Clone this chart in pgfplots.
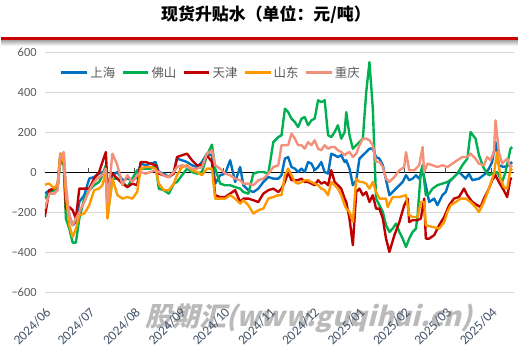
\documentclass[border=0pt]{standalone}
\usepackage{pgfplots}
\pgfplotsset{compat=1.18}
\usepackage{fontspec}
\setmainfont{Carlito}
\newfontfamily\cjk{Noto Sans CJK SC}
\newfontfamily\wmfont[FakeSlant=0.25]{Noto Sans CJK SC}
\definecolor{cBlue}{HTML}{0070C0}
\definecolor{cGreen}{HTML}{00B050}
\definecolor{cRed}{HTML}{C00000}
\definecolor{cOrange}{HTML}{FF9900}
\definecolor{cSalmon}{HTML}{F2907A}
\definecolor{cGray}{HTML}{595959}
\definecolor{cXlab}{HTML}{44546A}
\definecolor{cTitleRed}{HTML}{CC0000}
\begin{document}
\begin{tikzpicture}
\path (0pt,0pt) rectangle (519pt,351pt);
\node[text=black!27] at (309pt,31pt) {\wmfont\bfseries\fontsize{27}{30}\selectfont 股期汇(www.guqihui.cn)};
\node at (266pt,336.5pt) {\cjk\bfseries\fontsize{17}{19}\selectfont 现货升贴水（单位：元/吨）};
\shade[top color=black!40, bottom color=white] (0pt,305pt) rectangle (519pt,311.5pt);
\draw[color=cTitleRed, line width=2.6pt] (0pt,312.5pt) -- (519pt,312.5pt);
\begin{axis}[
  at={(43.7pt,57pt)}, anchor=south west, scale only axis,
  width=471.3pt, height=241pt,
  xmin=0, xmax=319.5, ymin=-600, ymax=600,
  axis line style={draw=none},
  major tick length=0pt,
  ytick={-600,-400,-200,0,200,400,600},
  yticklabels={−600,−400,−200,0,200,400,600},
  ymajorgrids, major grid style={draw=black!15, line width=0.8pt},
  yticklabel style={font=\fontsize{12.5}{14}\selectfont, text=cGray, anchor=east, inner sep=0pt, xshift=-8pt},
  xtick={0,30,61,92,122,153,183,214,245,273,304},
  xticklabels={2024/06,2024/07,2024/08,2024/09,2024/10,2024/11,2024/12,2025/01,2025/02,2025/03,2025/04},
  xticklabel style={font=\fontsize{13.5}{15}\selectfont, text=cXlab, yshift=-14pt, rotate=45, anchor=north east, inner sep=0pt},
  legend columns=5,
  legend style={at={(0.0325,0.917)}, anchor=west, draw=none, fill=none, inner sep=0pt,
    font=\cjk\fontsize{12.5}{14}\selectfont, text=cGray,
    /tikz/every even column/.append style={column sep=4pt}},
  legend image code/.code={\draw[#1] (0pt,0pt) -- (26pt,0pt);},
  every axis plot/.append style={line width=2.4pt, line join=round},
]
\draw[black, line width=0.9pt] (axis cs:0,0) -- (axis cs:319.5,0);
\pgfplotsinvokeforeach{0,30,61,92,122,153,183,214,245,273,304}{\draw[black!70, line width=0.9pt] (axis cs:#1,0) -- ++(0pt,5pt);}
\addplot[cBlue] coordinates {(0,-105)(3.1,-88)(6.5,-80)(8.8,-63)(10.6,95)(12.9,87)(14.4,-147)(16.7,-213)(19.0,-263)(21.2,-247)(23.5,-147)(26.9,-113)(30.3,-30)(33.6,-22)(37.0,-5)(39.3,3)(41.6,10)(42.7,-100)(46.1,-13)(49.5,3)(52.9,-38)(56.3,-30)(59.6,-38)(63.0,-22)(65.3,45)(68.7,37)(72.1,45)(75.5,53)(77.7,3)(81.1,-5)(84.5,-22)(87.9,3)(90.1,70)(93.5,62)(96.9,53)(100.3,37)(103.7,28)(107.1,53)(110.5,95)(113.9,87)(116.1,-55)(119.5,-13)(122.9,-5)(126.3,62)(129.7,-47)(133.1,28)(135.3,-63)(138.7,-88)(142.1,-97)(145.5,-80)(148.9,-47)(152.3,-22)(155.7,-30)(159.1,-30)(161.3,-13)(163.6,70)(165.8,78)(168.1,28)(170.4,20)(172.6,3)(174.9,20)(177.1,3)(179.4,53)(181.7,45)(183.9,12)(186.2,28)(188.4,53)(190.7,3)(193.0,-5)(195.2,95)(197.5,87)(199.7,78)(202.0,87)(204.3,53)(205.4,62)(207.6,20)(209.9,-63)(212.2,-38)(214.4,70)(216.7,87)(219.0,103)(221.2,120)(223.5,120)(225.7,78)(228.0,70)(230.3,37)(234.8,-113)(239.3,-80)(243.8,-47)(246.1,-13)(248.3,-38)(250.6,-30)(252.9,-13)(255.1,-30)(257.4,12)(259.6,-63)(261.9,-147)(265.3,-130)(267.5,-163)(270.9,-113)(273.2,-97)(275.5,-47)(277.7,-30)(282.2,3)(286.8,-30)(289.0,-5)(291.3,-38)(295.8,-30)(300.3,-5)(302.6,20)(304.8,53)(307.1,153)(309.4,37)(312.7,28)(316.1,37)(318.4,53)};
\addlegendentry{上海}
\addplot[cGreen] coordinates {(0,-130)(3.1,-97)(6.5,-88)(8.8,-72)(10.6,60)(12.9,37)(14.4,-230)(16.7,-280)(19.0,-350)(21.2,-350)(23.5,-230)(26.9,-130)(30.3,-88)(33.6,-63)(37.0,-47)(39.3,-13)(41.6,37)(42.7,-222)(46.1,-30)(49.5,-30)(52.9,-47)(56.3,-72)(59.6,-30)(63.0,12)(65.3,20)(68.7,20)(72.1,20)(75.5,37)(77.7,-80)(81.1,-88)(84.5,-105)(87.9,-55)(90.1,-47)(93.5,-13)(96.9,20)(100.3,3)(103.7,-5)(107.1,3)(110.5,87)(113.9,140)(116.1,20)(119.5,-55)(122.9,-63)(126.3,-63)(129.7,-72)(133.1,-80)(135.3,-97)(138.7,-105)(142.1,-5)(145.5,3)(148.9,3)(152.3,-5)(155.7,153)(159.1,178)(161.3,187)(163.6,320)(165.8,303)(168.1,270)(170.4,253)(172.6,228)(174.9,270)(177.1,278)(179.4,237)(181.7,262)(183.9,270)(186.2,362)(188.4,353)(190.7,362)(193.0,187)(195.2,178)(197.5,203)(199.7,237)(202.0,170)(204.3,203)(205.4,303)(207.6,187)(209.9,120)(212.2,137)(214.4,153)(216.7,170)(219.0,403)(221.2,553)(223.5,320)(225.7,-130)(228.0,-163)(230.3,-197)(232.5,-263)(234.8,-297)(237.0,-280)(239.3,-255)(241.6,-297)(243.8,-330)(246.1,-372)(248.3,-330)(250.6,-297)(252.9,-280)(254.0,-213)(256.2,3)(257.4,37)(259.6,-113)(261.9,-105)(264.2,-80)(267.5,-63)(270.9,-55)(274.3,-47)(277.7,-30)(281.1,-5)(284.5,37)(287.9,70)(290.1,203)(293.5,170)(295.8,87)(299.2,20)(302.6,-13)(304.8,-5)(308.2,3)(311.6,-47)(313.9,3)(317.3,120)(318.4,128)};
\addlegendentry{佛山}
\addplot[cRed] coordinates {(0,-222)(3.1,-88)(6.5,-80)(8.8,-63)(10.6,80)(12.9,70)(14.4,-180)(16.7,-172)(19.0,-188)(21.2,-230)(23.5,-80)(26.9,-80)(30.3,-80)(33.6,-30)(37.0,3)(39.3,53)(41.6,103)(42.7,-63)(46.1,-5)(49.5,-30)(52.9,-55)(56.3,-72)(59.6,-55)(63.0,-63)(65.3,53)(68.7,53)(72.1,45)(75.5,37)(77.7,-5)(81.1,-13)(84.5,-22)(87.9,-5)(90.1,78)(93.5,87)(96.9,95)(100.3,62)(103.7,37)(107.1,37)(110.5,87)(113.9,53)(116.1,-113)(119.5,-122)(122.9,-122)(126.3,-105)(129.7,-88)(133.1,-147)(135.3,-130)(138.7,-130)(142.1,-138)(145.5,-147)(148.9,-105)(152.3,-88)(155.7,-80)(159.1,-97)(161.3,-80)(163.6,-47)(165.8,3)(168.1,-38)(170.4,-38)(172.6,-38)(174.9,-30)(177.1,-47)(179.4,-47)(181.7,-55)(183.9,-63)(186.2,-38)(188.4,-55)(190.7,-47)(193.0,-63)(195.2,12)(197.5,-47)(199.7,-63)(202.0,-80)(204.3,-130)(205.4,-147)(207.6,-230)(209.9,-363)(212.2,-97)(214.4,-80)(216.7,-113)(219.0,-97)(221.2,-147)(223.5,-113)(225.7,-180)(228.0,-180)(230.3,-230)(232.5,-330)(234.8,-397)(238.2,-313)(241.6,-247)(244.9,-163)(247.2,-130)(248.3,-247)(250.6,-238)(254.0,-238)(256.2,-230)(258.5,-130)(259.6,-330)(261.9,-330)(265.3,-313)(268.7,-263)(272.1,-222)(275.5,-163)(278.8,-130)(282.2,-122)(285.6,-80)(287.9,-113)(291.3,-147)(294.7,-163)(296.9,-172)(299.2,-130)(302.6,-80)(304.8,-38)(307.1,-13)(309.4,-47)(312.7,-88)(315.0,-122)(317.3,-30)(318.4,-30)};
\addlegendentry{天津}
\addplot[cOrange] coordinates {(0,-60)(3.1,-55)(6.5,-80)(8.8,-55)(10.6,95)(12.9,53)(14.4,-113)(16.7,-263)(19.0,-322)(21.2,-280)(23.5,-213)(26.9,-205)(30.3,-163)(33.6,-88)(37.0,-80)(39.3,-63)(41.6,3)(42.7,-230)(46.1,-30)(49.5,-113)(52.9,-130)(56.3,-122)(59.6,-130)(63.0,-97)(65.3,20)(68.7,28)(72.1,28)(75.5,20)(77.7,-55)(81.1,-88)(84.5,-88)(87.9,-55)(90.1,-13)(93.5,28)(96.9,37)(100.3,12)(103.7,3)(107.1,-13)(110.5,20)(113.9,20)(116.1,-130)(119.5,-130)(122.9,-130)(126.3,-113)(129.7,-130)(133.1,-155)(135.3,-138)(138.7,-163)(142.1,-205)(145.5,-188)(148.9,-180)(152.3,-130)(155.7,-122)(159.1,-113)(161.3,-113)(163.6,-13)(165.8,20)(168.1,-13)(170.4,-47)(172.6,-55)(174.9,-47)(177.1,-38)(179.4,-38)(181.7,-47)(183.9,-55)(186.2,-63)(188.4,-80)(190.7,-88)(193.0,-113)(195.2,-47)(197.5,-63)(199.7,-80)(202.0,-113)(204.3,-163)(205.4,-180)(207.6,-197)(209.9,-247)(212.2,-30)(214.4,-47)(216.7,-47)(219.0,-55)(221.2,-80)(223.5,-47)(225.7,-97)(228.0,-130)(232.5,-130)(233.6,-172)(237.0,-122)(241.6,-122)(246.1,-113)(248.3,-213)(250.6,-222)(254.0,-222)(256.2,-147)(258.5,-147)(259.6,-263)(264.2,-272)(268.7,-280)(272.1,-247)(274.3,-197)(276.6,-163)(280.0,-147)(283.4,-130)(286.8,-130)(290.1,-147)(293.5,-172)(295.8,-197)(299.2,-147)(302.6,-80)(306.0,-5)(308.2,103)(310.5,-30)(312.7,-72)(315.0,-80)(317.3,20)(318.4,12)};
\addlegendentry{山东}
\addplot[cSalmon] coordinates {(0,-180)(3.1,-105)(6.5,-105)(8.8,-88)(10.6,70)(12.9,103)(14.4,-63)(16.7,-213)(19.0,-263)(21.2,-230)(23.5,-197)(26.9,-147)(30.3,-88)(33.6,-47)(37.0,-22)(39.3,-13)(41.6,20)(42.7,-150)(46.1,95)(49.5,37)(52.9,-63)(56.3,-13)(59.6,-47)(63.0,-13)(65.3,3)(68.7,-5)(72.1,3)(75.5,12)(77.7,3)(81.1,-13)(84.5,-22)(87.9,3)(90.1,28)(93.5,37)(96.9,28)(100.3,20)(103.7,20)(107.1,28)(110.5,95)(113.9,112)(116.1,37)(119.5,20)(122.9,-5)(126.3,-13)(129.7,-30)(133.1,-38)(135.3,-55)(138.7,-55)(142.1,-63)(145.5,-38)(148.9,-30)(152.3,-5)(155.7,28)(159.1,37)(161.3,137)(163.6,137)(165.8,137)(168.1,195)(170.4,170)(172.6,137)(174.9,137)(177.1,120)(179.4,153)(181.7,137)(183.9,162)(186.2,120)(188.4,112)(190.7,137)(193.0,120)(195.2,128)(197.5,128)(199.7,112)(202.0,103)(204.3,87)(205.4,95)(207.6,103)(209.9,78)(212.2,95)(214.4,137)(216.7,170)(219.0,170)(221.2,162)(223.5,137)(225.7,53)(228.0,53)(230.3,28)(232.5,-30)(234.8,-47)(238.2,-22)(241.6,12)(244.9,28)(246.1,103)(248.3,12)(251.7,12)(255.1,37)(257.4,128)(258.5,3)(260.8,45)(264.2,37)(267.5,28)(270.9,37)(274.3,28)(277.7,45)(281.1,62)(284.5,78)(287.9,78)(290.1,95)(293.5,70)(295.8,45)(299.2,37)(301.4,78)(303.7,62)(306.0,103)(307.1,262)(309.4,103)(311.6,45)(315.0,70)(317.3,28)(318.4,37)};
\addlegendentry{重庆}
\end{axis}
\end{tikzpicture}
\end{document}
